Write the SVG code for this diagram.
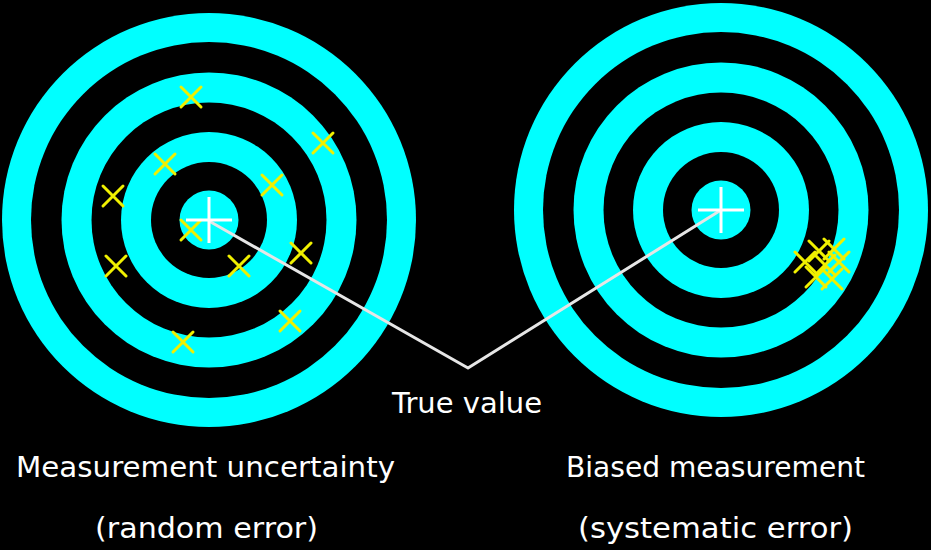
<svg xmlns="http://www.w3.org/2000/svg" xmlns:xlink="http://www.w3.org/1999/xlink" width="931" height="550" viewBox="0 0 931 550">
  <style>
    .cy { fill: #00ffff; }
    .bk { fill: #000000; }
    .x { stroke: #f0f000; stroke-width: 3; stroke-linecap: round; fill: none; }
    .cross { stroke: #ffffff; stroke-width: 3; fill: none; }
    .conn { stroke: #e6e6e6; stroke-width: 3; fill: none; stroke-linejoin: round; }
    .lbl { font-family: "Comic Sans MS", "DejaVu Sans", "Liberation Sans", sans-serif; font-size: 29px; fill: #ffffff; }
  </style>
  <defs>
    <g id="rings">
      <circle r="207" class="cy"/>
      <circle r="178" class="bk"/>
      <circle r="147.5" class="cy"/>
      <circle r="117.5" class="bk"/>
      <circle r="88" class="cy"/>
      <circle r="58" class="bk"/>
      <circle r="29.5" class="cy"/>
    </g>
    <path id="xm" d="M-10,-10 L10,10 M-10,10 L10,-10"/>
    <path id="plus" d="M-23,0 L23,0 M0,-23 L0,23"/>
  </defs>
  <rect width="931" height="550" fill="#000000"/>

  <g id="target-random">
    <use xlink:href="#rings" href="#rings" x="209" y="220"/>
    <g class="x">
      <use href="#xm" x="191" y="97"/>
      <use href="#xm" x="323" y="143"/>
      <use href="#xm" x="165" y="164"/>
      <use href="#xm" x="272" y="185"/>
      <use href="#xm" x="113" y="196"/>
      <use href="#xm" x="191" y="230"/>
      <use href="#xm" x="301" y="253"/>
      <use href="#xm" x="116" y="266"/>
      <use href="#xm" x="239" y="266"/>
      <use href="#xm" x="290" y="321"/>
      <use href="#xm" x="183" y="342"/>
    </g>
  </g>

  <g id="target-biased">
    <use href="#rings" x="721" y="210"/>
    <g class="x">
      <use href="#xm" x="805" y="262"/>
      <use href="#xm" x="819" y="251"/>
      <use href="#xm" x="834" y="249"/>
      <use href="#xm" x="825" y="265"/>
      <use href="#xm" x="839" y="262"/>
      <use href="#xm" x="816" y="277"/>
      <use href="#xm" x="832" y="279"/>
    </g>
  </g>

  <g id="connectors">
    <polyline class="conn" points="209,221 468,368 721,210"/>
  </g>

  <g id="true-value-marks" class="cross">
    <use href="#plus" x="209" y="220"/>
    <use href="#plus" x="721" y="210"/>
  </g>

  <g id="label-true-value">
    <text class="lbl" x="392" y="413" textLength="150" lengthAdjust="spacingAndGlyphs">True value</text>
  </g>
  <g id="label-random">
    <text class="lbl" x="16" y="477" textLength="379" lengthAdjust="spacingAndGlyphs">Measurement uncertainty</text>
    <text class="lbl" x="95" y="538" textLength="223" lengthAdjust="spacingAndGlyphs">(random error)</text>
  </g>
  <g id="label-biased">
    <text class="lbl" x="566" y="477" textLength="299" lengthAdjust="spacingAndGlyphs">Biased measurement</text>
    <text class="lbl" x="578" y="538" textLength="275" lengthAdjust="spacingAndGlyphs">(systematic error)</text>
  </g>
</svg>
